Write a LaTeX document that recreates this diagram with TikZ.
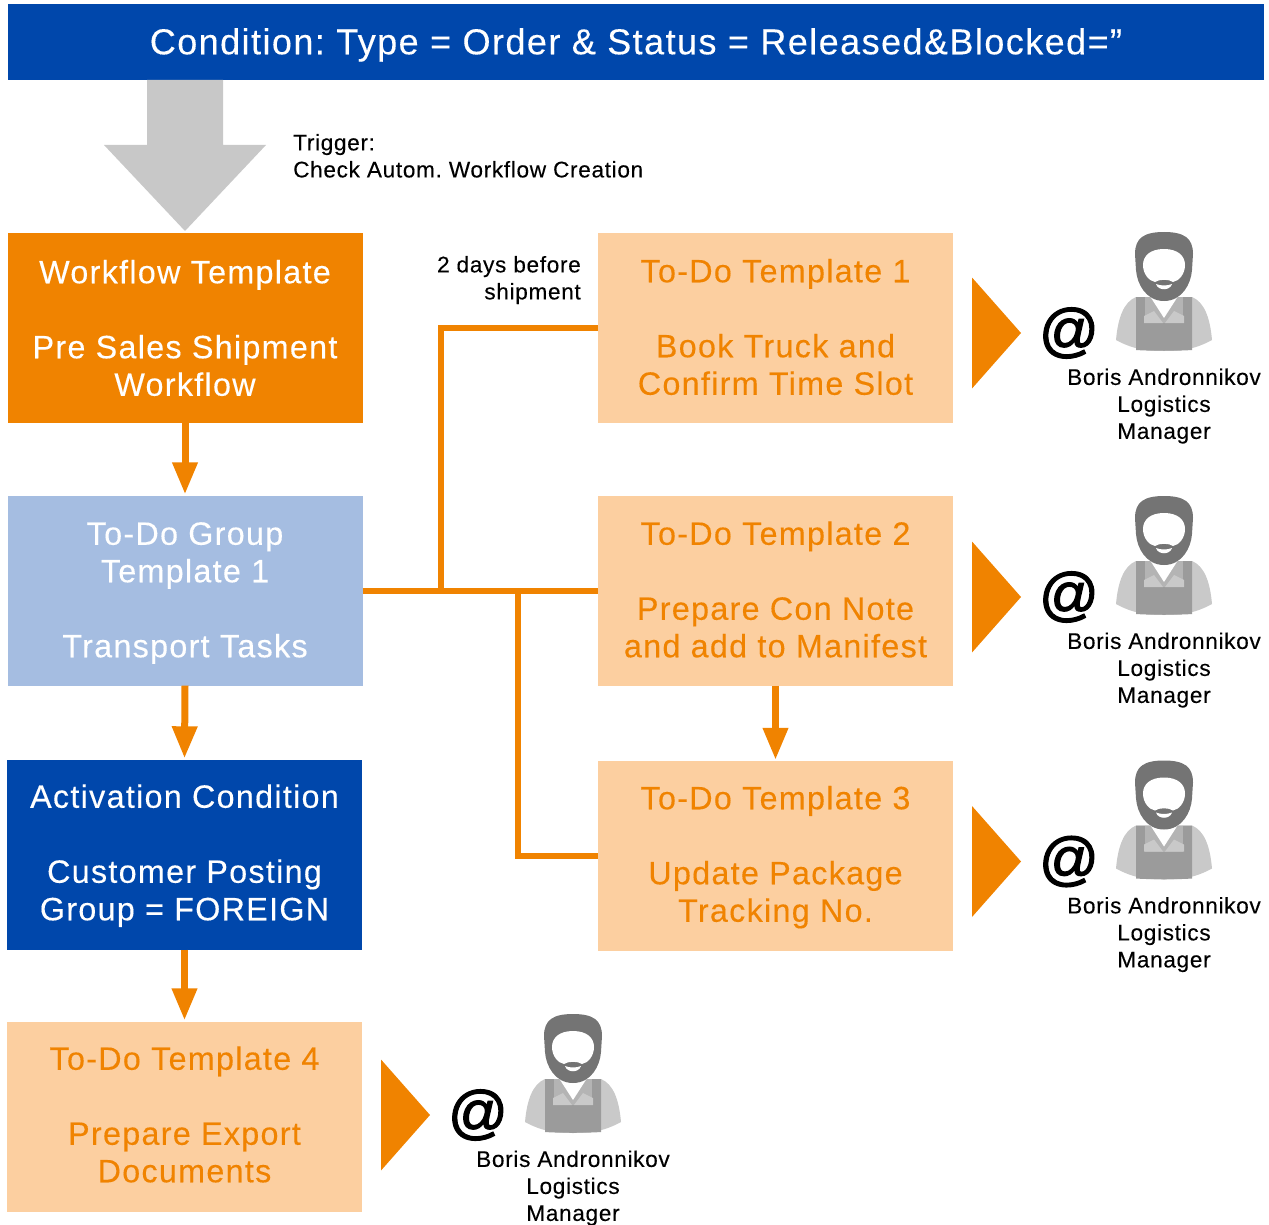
\documentclass[tikz,border=0pt]{standalone}
\usepackage{fontspec}
\setmainfont[LetterSpace=4,FakeBold=0.25]{Liberation Sans}
\newfontfamily\smallf[LetterSpace=3,FakeBold=0.2]{Liberation Sans}
\newfontfamily\atf[FakeBold=2]{Liberation Sans}
\frenchspacing
\usetikzlibrary{arrows.meta}
\definecolor{orangeC}{HTML}{F08300}
\definecolor{blueC}{HTML}{0047AB}
\definecolor{lightblueC}{HTML}{A5BDE1}
\definecolor{peachC}{HTML}{FCCFA0}
\definecolor{arrowgrey}{HTML}{C8C8C8}
\definecolor{hairC}{HTML}{747474}
\definecolor{apronC}{HTML}{9B9B9B}
\definecolor{bodyC}{HTML}{C9C9C9}
\definecolor{shirtC}{HTML}{B4B4B4}
\tikzset{
  box/.style={minimum width=355pt,minimum height=190pt,inner sep=0pt,align=center,
     font=\fontsize{32.3}{37.5}\selectfont},
  darkbox/.style={box,text=white},
  todobox/.style={box,fill=peachC,text=orangeC},
  small/.style={inner sep=0pt,font=\smallf\fontsize{22.6}{27}\selectfont},
  elbow/.style={draw=orangeC,line width=6pt},
  flow/.style={draw=orangeC,line width=7pt,-{Triangle[width=24pt,length=32pt]},shorten >=1pt},
  tri/.style={fill=orangeC},
}
% #1 downward shift of the text block in pt, then the four lines
\newcommand{\lines}[5]{\rule{0pt}{\dimexpr\ht\strutbox+2\dimexpr #1pt\relax\relax}\strut #2\\\strut #3\\\strut #4\\\strut #5}
% #1 name, #2 triangle left x, #3 apex y
\newcommand{\assignee}[3]{%
  \fill[tri] (#2,#3-55.5) -- (#2+49,#3) -- (#2,#3+55.5) -- cycle;
  \node[inner sep=0pt,font=\atf\fontsize{59}{59}\selectfont] (#1at) at (#2+97,#3) {@};
  \begin{scope}[shift={(#2+192,#3-101)}]
    \fill[bodyC] (-48,108) .. controls (-46,85) and (-40,70) .. (-28,65) -- (28,65)
       .. controls (40,70) and (46,85) .. (48,108) .. controls (30,118) and (15,119) .. (0,119)
       .. controls (-15,119) and (-30,118) .. (-48,108) -- cycle;
    \fill[apronC] (-28,65) -- (28,65) -- (28,118) .. controls (15,119) and (-15,119) .. (-28,118) -- cycle;
    \fill[shirtC] (-19,65) -- (-19,91) -- (19,91) -- (19,65) -- cycle;
    \fill[bodyC] (-20,84) -- (-10,79) -- (-1,91) -- (-20,91) -- cycle;
    \fill[bodyC] (20,84) -- (10,79) -- (1,91) -- (20,91) -- cycle;
    \fill[white] (-18,58) -- (0,86) -- (18,58) -- cycle;
    \fill[hairC] (0,0) .. controls (-20,0) and (-29,6) .. (-29,22) -- (-28,38)
       .. controls (-27,52) and (-18,69) .. (0,69) .. controls (18,69) and (27,52) .. (28,38)
       -- (29,22) .. controls (29,6) and (20,0) .. (0,0) -- cycle;
    \fill[white] (0,17) .. controls (-14,17) and (-21,24) .. (-21,33)
       .. controls (-21,42) and (-15,49) .. (-9,50) .. controls (-5,47) and (5,47) .. (9,50)
       .. controls (15,49) and (21,42) .. (21,33) .. controls (21,24) and (14,17) .. (0,17) -- cycle;
    \fill[white] (-8,52) .. controls (-3,54) and (3,54) .. (8,52) .. controls (6,59) and (-6,59) .. (-8,52) -- cycle;
  \end{scope}
  \node[small,align=center] (#1name) at (#2+192,#3+73.5) {\strut Boris Andronnikov\\\strut Logistics\\\strut Manager};
}
\begin{document}
\begin{tikzpicture}[x=1pt,y=-1pt]
\useasboundingbox (0,0) rectangle (1269,1225);
% header
\node[fill=blueC,text=white,minimum width=1256pt,minimum height=76pt,inner sep=0pt,
      font=\fontsize{36}{40}\selectfont] (header) at (636,42)
      {\rule{0pt}{32pt}Condition: Type = Order \& Status = Released\&Blocked=”};
% big grey arrow
\fill[arrowgrey] (147,80) -- (223,80) -- (223,145) -- (266,145) -- (185,231) -- (104,145) -- (147,145) -- cycle;
\node[small,align=left,anchor=west] (trigger) at (293,158.5) {\strut Trigger:\\\strut Check Autom. Workflow Creation};
% left column
\node[darkbox,fill=orangeC] (wf) at (185,328) {\lines{4}{Workflow Template}{}{Pre Sales Shipment}{Workflow}};
\node[darkbox,fill=lightblueC] (group) at (185,590.5) {\lines{3}{To-Do Group}{Template 1}{}{Transport Tasks}};
\node[darkbox,fill=blueC] (act) at (184.5,854.5) {\lines{2}{Activation Condition}{}{Customer Posting}{Group = FOREIGN}};
\node[todobox] (t4) at (184.5,1116.5) {\lines{2}{To-Do Template 4}{}{Prepare Export}{Documents}};
% right column
\node[todobox] (t1) at (775.5,328) {\lines{3}{To-Do Template 1}{}{Book Truck and}{Confirm Time Slot}};
\node[todobox] (t2) at (775.5,590.5) {\lines{3}{To-Do Template 2}{}{Prepare Con Note}{and add to Manifest}};
\node[todobox] (t3) at (775.5,856) {\lines{2}{To-Do Template 3}{}{Update Package}{Tracking No.}};
\node[small,align=right,anchor=east] (before) at (581,280.5) {\strut 2 days before\\\strut shipment};
% connectors
\coordinate (j1) at (441,590.5);
\coordinate (j2) at (518,590.5);
\draw[elbow] (group.east) -- (t2.west);
\draw[elbow] (j1) |- (t1.west);
\draw[elbow] (j2) |- (t3.west);
\draw[flow] (wf.south) -- (group.north);
\draw[flow] (group.south) -- (act.north);
\draw[flow] (act.south) -- (t4.north);
\draw[flow] (t2.south) -- (t3.north);
% assignees
\assignee{a}{972}{333}
\assignee{b}{972}{597}
\assignee{c}{972}{861.5}
\assignee{d}{381}{1115}
\end{tikzpicture}
\end{document}
